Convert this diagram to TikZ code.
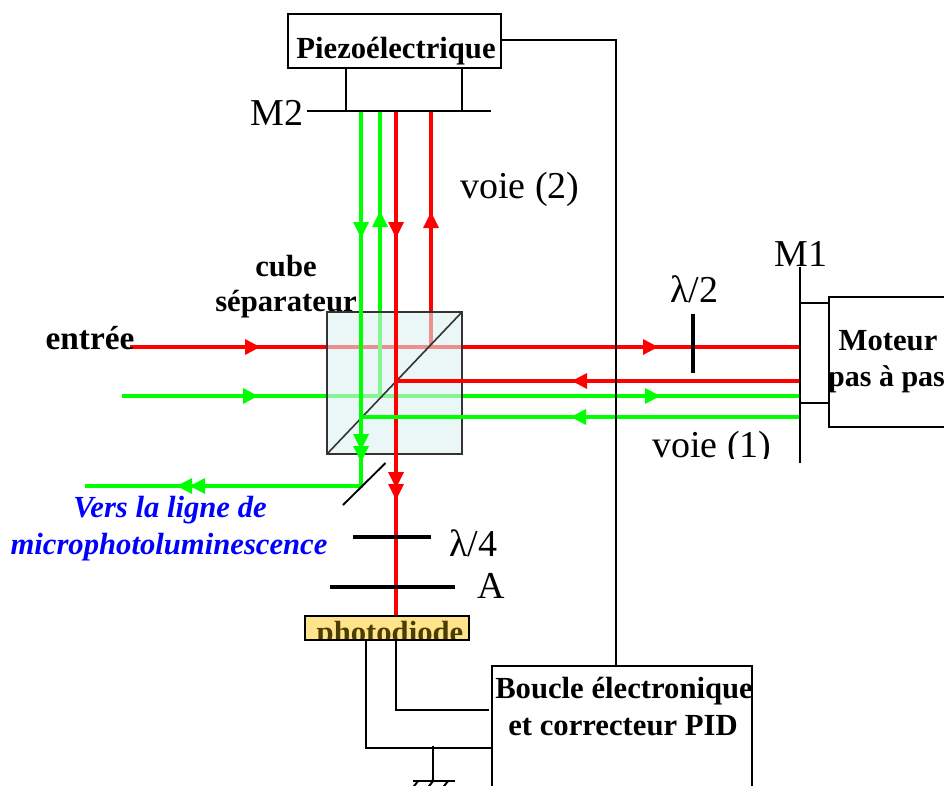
\documentclass[tikz,border=0pt]{standalone}
\usepackage{fontspec}
\setmainfont{Liberation Serif}
\definecolor{rayred}{RGB}{255,0,0}
\definecolor{raygreen}{RGB}{0,255,0}
\definecolor{cubefill}{RGB}{222,240,240}
\definecolor{pdfill}{RGB}{255,228,140}
\definecolor{pdtext}{RGB}{75,60,0}
\tikzset{
  redray/.style={draw=rayred,line width=3.4pt},
  greenray/.style={draw=raygreen,line width=3.4pt},
  wire/.style={draw=black,line width=1.5pt},
  optic/.style={draw=black,line width=2.6pt},
  boxnode/.style={draw=black,line width=1.6pt,fill=white},
  big/.style={font=\fontsize{28.5}{30}\selectfont,inner sep=0pt},
  bold/.style={font=\fontsize{23}{25}\selectfont\bfseries,inner sep=0pt,align=center},
  blueital/.style={font=\fontsize{23}{25}\selectfont\bfseries\itshape,text=blue,inner sep=0pt,anchor=base},
}
\newcommand\tipR[3]{\fill[#1] (#2,#3) -- ++(-15,-8) -- ++(0,16) -- cycle;}
\newcommand\tipL[3]{\fill[#1] (#2,#3) -- ++(15,-8) -- ++(0,16) -- cycle;}
\newcommand\tipD[3]{\fill[#1] (#2,#3) -- ++(-8,-16) -- ++(16,0) -- cycle;}
\newcommand\tipU[3]{\fill[#1] (#2,#3) -- ++(-8,16) -- ++(16,0) -- cycle;}
\begin{document}
\begin{tikzpicture}[x=.75pt,y=-.75pt]
\useasboundingbox (0,0) rectangle (944,785);
\clip (0,0) rectangle (944,785);
% named anchors
\coordinate (entryR) at (130,347);
\coordinate (entryG) at (122,396);
\coordinate (m1a) at (800,347);
\coordinate (m1b) at (800,381);
\coordinate (m1c) at (800,396);
\coordinate (m1d) at (800,417);
\coordinate (splitRup) at (431,347);
\coordinate (m2Rup) at (431,111);
\coordinate (m2Rdown) at (396,111);
\coordinate (splitRback) at (396,381);
\coordinate (pdin) at (396,616);
\coordinate (m2Gup) at (380,111);
\coordinate (splitGup) at (380,396);
\coordinate (m2Gdown) at (361,111);
\coordinate (splitGback) at (361,417);
\coordinate (mirrorhit) at (361,486);
\coordinate (outG) at (85,486);
% rays seen through the cube
\draw[redray] (entryR) -- (m1a);
\draw[redray] (splitRup) -- (m2Rup);
\draw[greenray] (entryG) -- (m1c);
\draw[greenray] (splitGup) -- (m2Gup);
% cube
\path[draw=black!80,line width=1.5pt,fill=cubefill,fill opacity=.6] (327,312) rectangle (462,454);
\coordinate (cubeSW) at (327,454);
\coordinate (cubeNE) at (462,312);
\draw[black!80,line width=1.2pt] (cubeSW) -- (cubeNE);
% rays over the cube
\draw[redray] (m2Rdown) -- (pdin);
\draw[redray] (m1b) -- (splitRback);
\draw[greenray] (m2Gdown) -- (mirrorhit) -- (outG);
\draw[greenray] (m1d) -- (splitGback);
\tipR{rayred}{260}{347}
\tipR{rayred}{658}{347}
\tipL{rayred}{572}{381}
\tipU{rayred}{431}{212}
\tipD{rayred}{396}{238}
\tipD{rayred}{396}{488}
\tipD{rayred}{396}{500}
\tipR{raygreen}{258}{396}
\tipR{raygreen}{660}{396}
\tipL{raygreen}{571}{417}
\tipU{raygreen}{380}{211}
\tipD{raygreen}{361}{238}
\tipD{raygreen}{361}{450}
\tipD{raygreen}{361}{462}
\tipL{raygreen}{177}{486}
\tipL{raygreen}{190}{486}
% mirror at the green exit
\coordinate (mirA) at (343,505);
\coordinate (mirB) at (385.5,463);
\draw[black,line width=1.4pt] (mirA) -- (mirB);
% M2 and piezo
\node[boxnode,minimum width=159.5pt,minimum height=40.5pt,inner sep=0pt] (piezo) at (394.5,41) {};
\node[bold,anchor=base] (piezotxt) at (396,58) {Piezoélectrique};
\coordinate (m2L) at (307,111);
\coordinate (m2R) at (491,111);
\draw[wire] (m2L) -- (m2R);
\draw[wire] (346,68) -- (346,111);
\draw[wire] (462,68) -- (462,111);
\node[big,anchor=base] (m2txt) at (277,125) {M2};
% M1 and motor
\coordinate (m1top) at (800,267);
\coordinate (m1bot) at (800,463);
\draw[wire] (m1top) -- (m1bot);
\node[boxnode,minimum width=120pt,minimum height=97.5pt,inner sep=0pt,anchor=north west] (motor) at (828,296) {};
\draw[wire] (800,303) -- (828,303);
\draw[wire] (800,403) -- (828,403);
\node[bold,anchor=base] (mot1) at (888,350) {Moteur};
\node[bold,anchor=base,font=\fontsize{22.5}{25}\selectfont\bfseries] (mot2) at (886.5,386) {pas à pas};
\node[big,anchor=base] (m1txt) at (801,266) {M1};
% wave plates
\coordinate (l2a) at (693,314);
\coordinate (l2b) at (693,373);
\draw[optic] (l2a) -- (l2b);
\node[big,anchor=base] (l2txt) at (694,302) {λ/2};
\coordinate (l4a) at (353,537);
\coordinate (l4b) at (431,537);
\draw[optic] (l4a) -- (l4b);
\node[big,anchor=base] (l4txt) at (473,556) {λ/4};
\coordinate (aa) at (330,587);
\coordinate (ab) at (455,587);
\draw[optic] (aa) -- (ab);
\node[big,anchor=base] (atxt) at (491,598) {A};
% labels
\node[big,anchor=base] (v2) at (520,198) {voie (2)};
\begin{scope}
\clip (640,420) rectangle (790,458);
\node[big,anchor=base] (v1) at (712,457) {voie (1)};
\end{scope}
\node[bold,anchor=base] at (286,276) {cube};
\node[bold,anchor=base] at (286,311) {séparateur};
\node[font=\fontsize{25}{28}\selectfont\bfseries,inner sep=0pt,anchor=base] at (90,349) {entrée};
\node[blueital] at (170,517) {Vers la ligne de};
\node[blueital] at (169,554) {microphotoluminescence};
% photodiode
\path[fill=pdfill] (305,616) rectangle (469,640);
\begin{scope}
\clip (305,616) rectangle (469,640);
\node[font=\fontsize{23}{25}\selectfont\bfseries,text=pdtext,inner sep=0pt,anchor=base] at (390,642) {photodiode};
\end{scope}
\path[draw=black,line width=1.5pt] (305,616) rectangle (469,640);
\coordinate (pdA) at (396,640);
\coordinate (pdB) at (366,640);
% PID box
\node[boxnode,minimum width=195pt,minimum height=105pt,inner sep=0pt,anchor=north west] (pid) at (491,665) {};
\node[bold,anchor=base] (pid1) at (624,698) {Boucle électronique};
\node[bold,anchor=base] (pid2) at (623,735) {et correcteur PID};
% wiring
\draw[wire] (501,40) -- (616,40) -- (616,665);
\draw[wire] (pdA) -- (396,710) -- (489,710);
\draw[wire] (pdB) -- (366,748) -- (491,748);
\coordinate (gndtop) at (433,746);
\coordinate (gnd) at (433,781);
\draw[wire] (gndtop) -- (gnd);
\draw[wire] (413,781) -- (455,781);
\draw[wire] (418,781) -- (411,790);
\draw[wire] (433,781) -- (426,790);
\draw[wire] (448,781) -- (441,790);
\end{tikzpicture}
\end{document}
